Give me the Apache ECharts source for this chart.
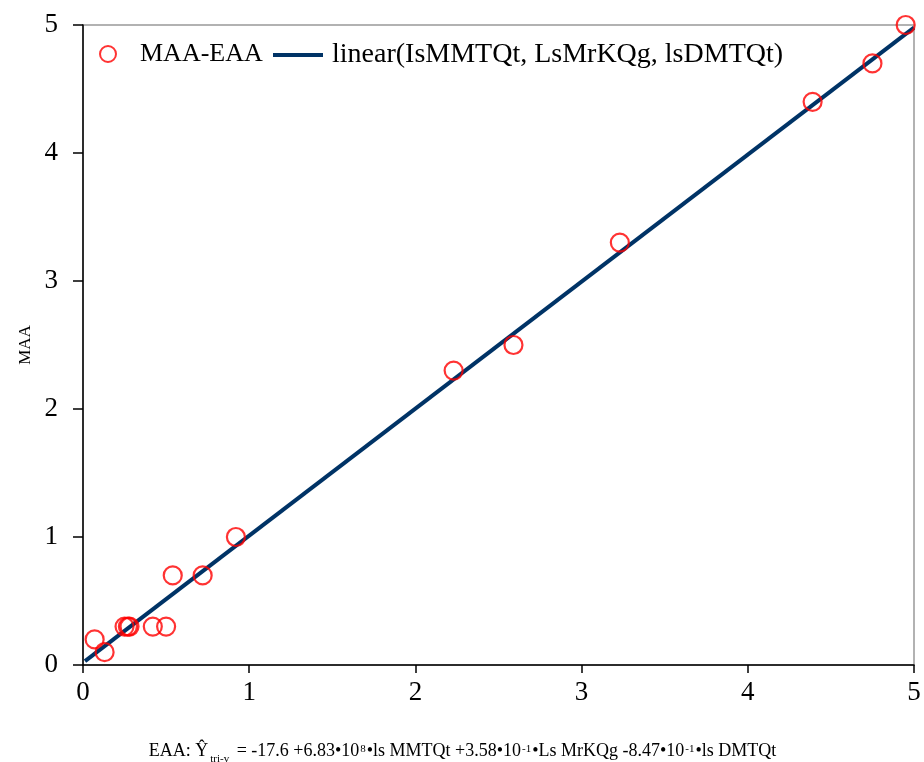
<!DOCTYPE html>
<html>
<head>
<meta charset="utf-8">
<script src="https://cdn.jsdelivr.net/npm/echarts@6/dist/echarts.min.js"></script>
<style>html,body{margin:0;padding:0;background:#fff;}#c{width:924px;height:762px;}</style>
</head>
<body>
<div id="c"></div>
<script>
const eaaValues = [0.07, 0.13, 0.25, 0.27, 0.28, 0.42, 0.50, 0.54, 0.72, 0.92, 2.23, 2.59, 3.23, 4.39, 4.75, 4.95];
const maaValues = [0.2, 0.1, 0.3, 0.3, 0.3, 0.3, 0.3, 0.7, 0.7, 1.0, 2.3, 2.5, 3.3, 4.4, 4.7, 5.0];
const fitX = [0.012, 5.0];
const fitY = [0.03, 4.98];
const xTicks = [0, 1, 2, 3, 4, 5];
const yTicks = [0, 1, 2, 3, 4, 5];
const scatterName = 'MAA-EAA';
const lineName = 'linear(IsMMTQt, LsMrKQg, lsDMTQt)';

const serif = '"Liberation Serif", "Times New Roman", serif';
const chart = echarts.init(document.getElementById('c'), null, {renderer: 'canvas'});
chart.setOption({
  animation: false,
  backgroundColor: '#fff',
  textStyle: {fontFamily: serif},
  grid: {left: 83, right: 10, top: 25, bottom: 97, show: true, borderColor: '#999', borderWidth: 1.5,
         containLabel: false, outerBoundsMode: 'none'},
  legend: [
    {data: [{name: scatterName, itemStyle: {borderWidth: 2}}], left: 99, top: 41, padding: 0,
     itemWidth: 16, itemHeight: 16, itemGap: 0,
     textStyle: {fontFamily: serif, fontSize: 26, color: '#000', padding: [0, 0, 0, 19]}},
    {data: [{name: lineName, icon: 'rect'}], left: 273, top: 41, padding: 0,
     itemWidth: 50, itemHeight: 4, itemGap: 0,
     textStyle: {fontFamily: serif, fontSize: 28, color: '#000', padding: [0, 0, 0, 4]}}
  ],
  xAxis: {
    type: 'value', min: 0, max: 5, interval: 1,
    axisLine: {show: true, onZero: false, lineStyle: {color: '#000', width: 1.5}},
    axisTick: {show: true, length: 8, lineStyle: {color: '#000', width: 1.5}},
    axisLabel: {fontFamily: serif, fontSize: 27, color: '#000', margin: 14,
      formatter: v => xTicks.includes(v) ? String(v) : ''},
    splitLine: {show: false},
    name: '{n|EAA: Ŷ}{s|tri-v}{n| = -17.6 +6.83•10}{p|8}{n|•ls MMTQt +3.58•10}{p|-1}{n|•Ls MrKQg -8.47•10}{p|-1}{n|•ls DMTQt}',
    nameLocation: 'middle', nameGap: 77,
    nameTextStyle: {
      fontFamily: serif, color: '#000', padding: [0, 72, 0, 0],
      rich: {
        n: {fontFamily: serif, fontSize: 18, color: '#000', verticalAlign: 'top', lineHeight: 26},
        s: {fontFamily: serif, fontSize: 11, color: '#000', verticalAlign: 'bottom', lineHeight: 26, padding: [0, 3, 3, 2]},
        p: {fontFamily: serif, fontSize: 11, color: '#000', verticalAlign: 'top', lineHeight: 26, padding: [2, 1, 0, 1]}
      }
    }
  },
  yAxis: {
    type: 'value', min: 0, max: 5, interval: 1,
    axisLine: {show: true, onZero: false, lineStyle: {color: '#000', width: 1.5}},
    axisTick: {show: true, length: 10, lineStyle: {color: '#000', width: 1.5}},
    axisLabel: {fontFamily: serif, fontSize: 27, color: '#000', margin: 25,
      formatter: v => yTicks.includes(v) ? String(v) : ''},
    splitLine: {show: false},
    name: 'MAA', nameLocation: 'middle', nameGap: 48,
    nameTextStyle: {fontFamily: serif, fontSize: 17, color: '#000'}
  },
  series: [
    {
      name: scatterName, type: 'scatter', symbol: 'circle', symbolSize: 18,
      itemStyle: {color: 'rgba(255,255,255,0)', borderColor: '#ff0000', borderWidth: 2.2},
      data: eaaValues.map((x, i) => [x, maaValues[i]]),
      z: 3
    },
    {
      name: lineName, type: 'line', symbol: 'none', showSymbol: false,
      lineStyle: {color: '#003366', width: 4},
      itemStyle: {color: '#003366'},
      data: fitX.map((x, i) => [x, fitY[i]]),
      z: 2
    }
  ]
});
</script>
</body>
</html>
